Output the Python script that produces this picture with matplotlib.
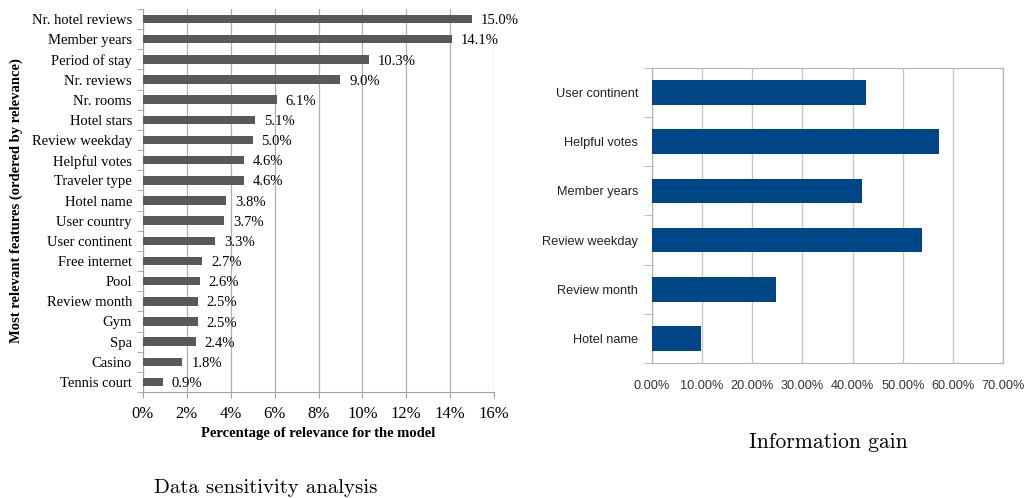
import matplotlib
matplotlib.use("Agg")
import matplotlib.pyplot as plt
import numpy as np
from matplotlib.ticker import FixedLocator

# ---- data ----
sens_features = ["Nr. hotel reviews", "Member years", "Period of stay", "Nr. reviews",
                 "Nr. rooms", "Hotel stars", "Review weekday", "Helpful votes",
                 "Traveler type", "Hotel name", "User country", "User continent",
                 "Free internet", "Pool", "Review month", "Gym", "Spa", "Casino",
                 "Tennis court"]
sens_values = [15.0, 14.1, 10.3, 9.0, 6.1, 5.1, 5.0, 4.6, 4.6, 3.8, 3.7, 3.3,
               2.7, 2.6, 2.5, 2.5, 2.4, 1.8, 0.9]
sens_ticks = [0, 2, 4, 6, 8, 10, 12, 14, 16]

ig_features = ["User continent", "Helpful votes", "Member years", "Review weekday",
               "Review month", "Hotel name"]
ig_values = [42.7, 57.2, 41.9, 53.8, 24.7, 9.8]
ig_ticks = [0, 10, 20, 30, 40, 50, 60, 70]

W, H = 1026, 498
fig = plt.figure(figsize=(W / 100, H / 100), dpi=100)
fig.patch.set_facecolor("white")

def px_axes(l, t, r, b):
    return fig.add_axes([l / W, 1 - b / H, (r - l) / W, (b - t) / H])

serif = "Liberation Serif"
sans = "Liberation Sans"

# ---- left chart ----
ax1 = px_axes(143, 9, 494, 392)
y1 = np.arange(len(sens_features))
ax1.barh(y1, sens_values, height=0.42, color="#595959", zorder=3)
ax1.set_xlim(0, 16)
ax1.set_ylim(len(sens_features) - 0.5, -0.5)
ax1.set_xticks(sens_ticks)
ax1.set_xticklabels([f"{t}%" for t in sens_ticks], fontfamily=serif, fontsize=12)
ax1.set_yticks(y1)
ax1.set_yticklabels(sens_features, fontfamily=serif, fontsize=10.5)
ax1.yaxis.set_minor_locator(FixedLocator(np.arange(len(sens_features) + 1) - 0.5))
ax1.tick_params(axis="y", which="major", length=0, pad=8)
ax1.tick_params(axis="y", which="minor", length=4, color="#a0a0a0", direction="out")
ax1.tick_params(axis="x", which="major", length=4, color="#a0a0a0", pad=6)
ax1.grid(axis="x", color="#b0b0b0", linewidth=0.9, zorder=0)
for s in ["top", "right"]:
    ax1.spines[s].set_visible(False)
for s in ["left", "bottom"]:
    ax1.spines[s].set_color("#a0a0a0")
for yi, v in zip(y1, sens_values):
    ax1.text(v + 0.4, yi + 0.08, f"{v:.1f}%", va="center", ha="left",
             fontfamily=serif, fontsize=10.5, zorder=4)
ax1.set_xlabel("Percentage of relevance for the model", fontfamily=serif,
               fontsize=10.5, fontweight="bold", labelpad=4)
ax1.set_ylabel("Most relevant features (ordered by relevance)", fontfamily=serif,
               fontsize=10.5, fontweight="bold", labelpad=6)

fig.text(266 / W, 1 - 488 / H, "Data sensitivity analysis", ha="center", va="center",
         fontfamily="cmr10", fontsize=15)

# ---- right chart ----
ax2 = px_axes(652, 68, 1003, 363)
y2 = np.arange(len(ig_features))
ax2.barh(y2, ig_values, height=0.5, color="#004586", zorder=3)
ax2.set_xlim(0, 70)
ax2.set_ylim(len(ig_features) - 0.5, -0.5)
ax2.set_xticks(ig_ticks)
ax2.set_xticklabels([f"{t:.2f}%" for t in ig_ticks], fontfamily=sans, fontsize=9.2,
                    color="#333333")
ax2.set_yticks(y2)
ax2.set_yticklabels(ig_features, fontfamily=sans, fontsize=9.2, color="#222222")
ax2.yaxis.set_minor_locator(FixedLocator(np.arange(len(ig_features) + 1) - 0.5))
ax2.tick_params(axis="y", which="major", length=0, pad=10)
ax2.tick_params(axis="y", which="minor", length=6, color="#b3b3b3", direction="out")
ax2.tick_params(axis="x", which="major", length=0, pad=12)
ax2.grid(axis="x", color="#c8c8c8", linewidth=1.0, zorder=0)
for s in ["top", "right", "left", "bottom"]:
    ax2.spines[s].set_color("#b3b3b3")

fig.text(828 / W, 1 - 442 / H, "Information gain", ha="center", va="center",
         fontfamily="cmr10", fontsize=15.5)

fig.savefig("out.png", dpi=100, facecolor="white")
